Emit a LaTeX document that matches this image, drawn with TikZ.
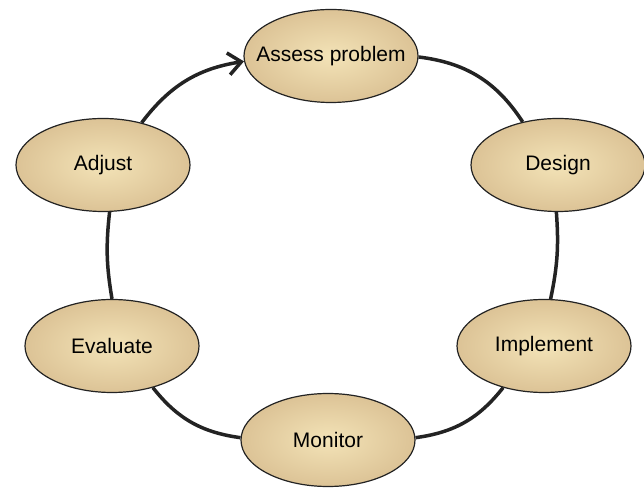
\documentclass[tikz,border=0pt]{standalone}
\usepackage{fontspec}
\setmainfont{Liberation Sans}
\usetikzlibrary{shapes.geometric, arrows.meta}

\definecolor{stepfill}{RGB}{243,227,183}
\definecolor{stepedge}{RGB}{220,195,150}
\definecolor{stepline}{RGB}{35,35,35}

\begin{document}
\begin{tikzpicture}[x=1pt, y=1pt,
  stage/.style={ellipse, draw=stepline, line width=1.2pt,
    inner color=stepfill, outer color=stepedge,
    inner xsep=-16pt, inner ysep=0pt,
    minimum width=174pt, minimum height=93pt,
    font=\fontsize{21}{25}\selectfont},
  cycle/.style={line width=3.5pt, draw=stepline}]
 \useasboundingbox (0,0) rectangle (644,500);

 \node[stage] (assess)    at (331,444) {Assess problem};
 \node[stage] (design)    at (558,335) {Design};
 \node[stage] (implement) at (544,154) {Implement};
 \node[stage] (monitor)   at (328,60)  {Monitor};
 \node[stage] (evaluate)  at (112,154) {Evaluate};
 \node[stage] (adjust)    at (103,335) {Adjust};

 \draw [cycle] (assess) to[bend left=25] (design);
 \draw [cycle] (design.-92) to[bend left=8] (implement.82);
 \draw [cycle] (implement) to[bend left=22] (monitor);
 \draw [cycle] (monitor) to[bend left=22] (evaluate);
 \draw [cycle] (evaluate.north) to[bend left=8] (adjust.-82);
 \draw [cycle, -{Straight Barb[length=13pt, width=22pt]}] (adjust) to[bend left=22] (assess);
\end{tikzpicture}
\end{document}
